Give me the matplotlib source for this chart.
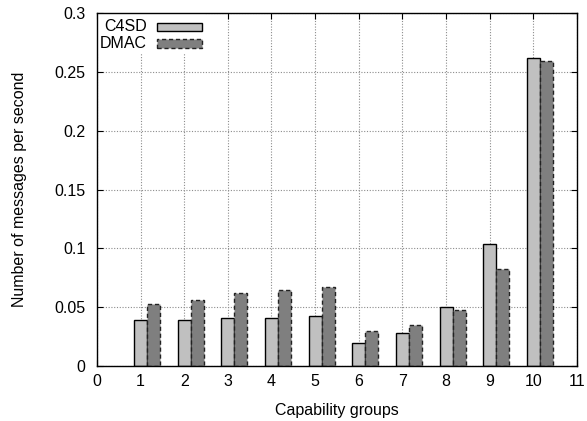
import matplotlib.pyplot as plt
from matplotlib.patches import Rectangle
from matplotlib.ticker import FuncFormatter

# messages per second for each capability group
groups = [1, 2, 3, 4, 5, 6, 7, 8, 9, 10]
c4sd = [0.0391, 0.0390, 0.0405, 0.0410, 0.0425, 0.0193, 0.0280, 0.0499, 0.1034, 0.2620]
dmac = [0.0524, 0.0564, 0.0623, 0.0643, 0.0669, 0.0298, 0.0349, 0.0476, 0.0827, 0.2595]
names = ['C4SD', 'DMAC']

plt.rcParams['font.family'] = ['Liberation Sans', 'DejaVu Sans']
fs = 11.5

c4sd_style = dict(facecolor='#c0c0c0', edgecolor='black', linewidth=1.0)
dmac_style = dict(facecolor='#7f7f7f', edgecolor='#222222', linewidth=1.0,
                  linestyle=(0, (3, 2)))

fig = plt.figure(figsize=(5.87, 4.21), dpi=100)
ax = fig.add_axes([0.165, 0.1306, 0.818, 0.8384])

w = 0.3
ax.bar(groups, c4sd, width=w, zorder=3, **c4sd_style)
ax.bar([g + w for g in groups], dmac, width=w, zorder=3, **dmac_style)

ax.set_xlim(0, 11)
ax.set_ylim(0, 0.3)
ax.set_xticks(range(0, 12))
ax.set_yticks([0, 0.05, 0.1, 0.15, 0.2, 0.25, 0.3])
ax.yaxis.set_major_formatter(FuncFormatter(lambda v, p: ('%g' % round(v, 2))))

ax.grid(True, color='#8c8c8c', linestyle=(0, (1, 1.5)), linewidth=0.8, zorder=0)
ax.tick_params(direction='in', top=True, right=True, length=4.5, labelsize=fs)
ax.tick_params(axis='y', pad=8)
ax.tick_params(axis='x', pad=6)
for s in ax.spines.values():
    s.set_linewidth(1.0)
    s.set_zorder(5)

ax.set_xlabel('Capability groups', fontsize=fs, labelpad=10)
ax.set_ylabel('Number of messages per second', fontsize=fs, labelpad=20)

# gnuplot-style key: label on the left, sample box on the right
ax.add_patch(Rectangle((0.0, 0.885), 0.225, 0.115, transform=ax.transAxes,
                       facecolor='white', edgecolor='none', zorder=4))
rows = [(0.948, c4sd_style), (0.901, dmac_style)]
for name, (y0, style) in zip(names, rows):
    ax.add_patch(Rectangle((0.125, y0), 0.094, 0.025, transform=ax.transAxes,
                           zorder=6, **style))
    ax.text(0.104, y0 + 0.0125, name, transform=ax.transAxes, fontsize=fs,
            ha='right', va='center', zorder=6)

fig.savefig('out.png', dpi=100)
